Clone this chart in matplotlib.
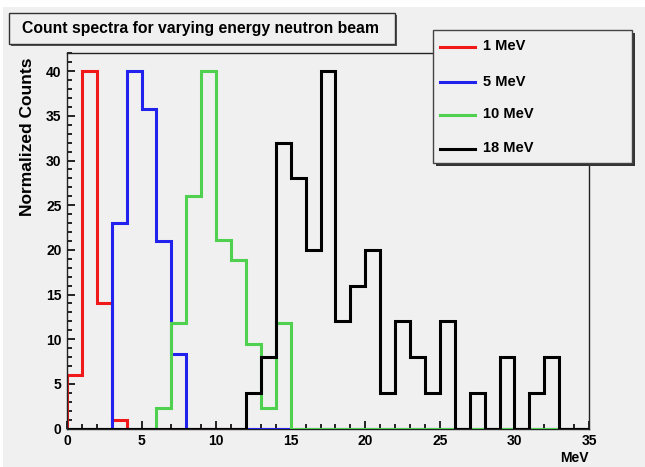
import numpy as np
import matplotlib
matplotlib.use("Agg")
import matplotlib.pyplot as plt
from matplotlib.patches import Rectangle
from matplotlib.lines import Line2D
from matplotlib.ticker import MultipleLocator

plt.rcParams['font.family'] = ['Liberation Sans', 'DejaVu Sans']

# bin edges (MeV) and normalized counts per 1 MeV bin
bin_edges = np.arange(0, 36, 1)
counts_1mev = [6, 40, 14, 1, 0, 0, 0, 0, 0, 0, 0, 0, 0, 0, 0, 0, 0, 0, 0, 0,
               0, 0, 0, 0, 0, 0, 0, 0, 0, 0, 0, 0, 0, 0, 0]
counts_5mev = [0, 0, 0, 23, 40, 35.8, 21, 8.3, 0, 0, 0, 0, 0, 0, 0, 0, 0, 0, 0, 0,
               0, 0, 0, 0, 0, 0, 0, 0, 0, 0, 0, 0, 0, 0, 0]
counts_10mev = [0, 0, 0, 0, 0, 0, 2.3, 11.8, 26, 40, 21.1, 18.9, 9.5, 2.3, 11.8, 0, 0, 0, 0, 0,
                0, 0, 0, 0, 0, 0, 0, 0, 0, 0, 0, 0, 0, 0, 0]
counts_18mev = [0, 0, 0, 0, 0, 0, 0, 0, 0, 0, 0, 0, 4, 8, 32, 28, 20, 40, 12, 16,
                20, 4, 12, 8, 4, 12, 0, 4, 0, 8, 0, 4, 8, 0, 0]

labels = ['1 MeV', '5 MeV', '10 MeV', '18 MeV']
colors = ['#f01818', '#2222ee', '#4fd04f', '#000000']
series = [counts_1mev, counts_5mev, counts_10mev, counts_18mev]

W, H = 645, 467
bg = '#f0f0f0'

def fx(px):
    return px / W

def fy(py):
    return 1 - py / H

fig = plt.figure(figsize=(6.45, 4.67), dpi=100, facecolor='white')
# gray canvas (thin white border at top/left like the screenshot)
fig.patches.append(Rectangle((fx(3), 0), 1, fy(7), transform=fig.transFigure,
                             facecolor=bg, edgecolor='none', zorder=-5))

ax = fig.add_axes([fx(67), fy(428.5), fx(589) - fx(67), fy(53.3) - fy(428.5)])
ax.set_facecolor(bg)

for vals, col, z in zip(series, colors, [2, 3, 4, 5]):
    ax.stairs(vals, bin_edges, color=col, lw=2.2, zorder=z)

ax.set_xlim(0, 35)
ax.set_ylim(0, 42)
ax.xaxis.set_major_locator(MultipleLocator(5))
ax.xaxis.set_minor_locator(MultipleLocator(1))
ax.yaxis.set_major_locator(MultipleLocator(5))
ax.yaxis.set_minor_locator(MultipleLocator(1))
ax.tick_params(which='both', direction='in', width=1.2, color='black')
ax.tick_params(which='major', length=6, labelsize=10, pad=4)
ax.tick_params(which='minor', length=3.5)
for lab in ax.get_xticklabels() + ax.get_yticklabels():
    lab.set_fontweight('bold')
for s in ax.spines.values():
    s.set_linewidth(1.0)
    s.set_color('#222222')

fig.text(fx(589), fy(458), 'MeV', ha='right', va='center', fontsize=10, fontweight='bold')
fig.text(fx(28), fy(137), 'Normalized Counts', rotation=90, ha='center', va='center',
         fontsize=12.5, fontweight='bold')

# title box
fig.patches.append(Rectangle((fx(11), fy(46)), fx(395) - fx(9), fy(13) - fy(44),
                             transform=fig.transFigure, facecolor='#555555',
                             edgecolor='none', zorder=5))
fig.patches.append(Rectangle((fx(9), fy(44)), fx(395) - fx(9), fy(13) - fy(44),
                             transform=fig.transFigure, facecolor=bg,
                             edgecolor='#333333', lw=1.0, zorder=6))
fig.text(fx(22), fy(29), 'Count spectra for varying energy neutron beam', ha='left',
         va='center', fontsize=11.3, fontweight='bold', zorder=7)

# legend box
fig.patches.append(Rectangle((fx(436), fy(166)), fx(632) - fx(433), fy(30) - fy(163),
                             transform=fig.transFigure, facecolor='#333333',
                             edgecolor='none', zorder=5))
fig.patches.append(Rectangle((fx(433), fy(163)), fx(632) - fx(433), fy(30) - fy(163),
                             transform=fig.transFigure, facecolor=bg,
                             edgecolor='#444444', lw=1.0, zorder=6))
entry_y = [46.5, 81.5, 114.5, 148.5]
for lab, col, py in zip(labels, colors, entry_y):
    fig.lines.append(Line2D([fx(440), fx(475)], [fy(py), fy(py)], transform=fig.transFigure,
                            color=col, lw=2.2, zorder=7))
    fig.text(fx(483), fy(py), lab, ha='left', va='center', fontsize=10.5,
             fontweight='bold', zorder=7)

fig.savefig('out.png', dpi=100, facecolor=fig.get_facecolor())
